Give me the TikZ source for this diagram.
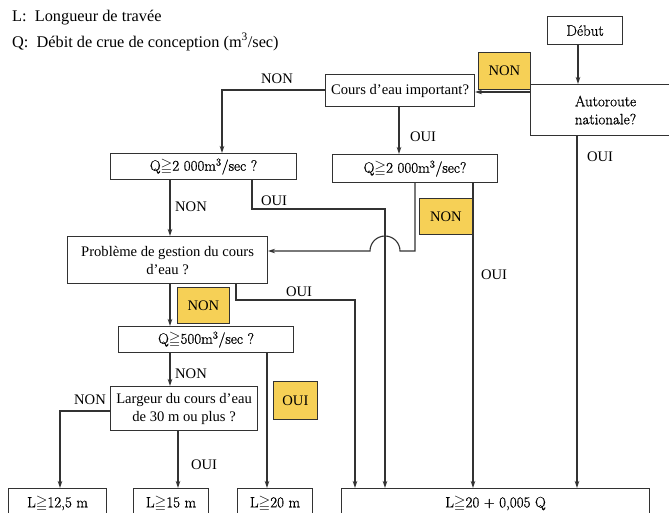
\documentclass[tikz,border=0pt]{standalone}
\usepackage{fontspec}
\usepackage{amssymb}
\newfontfamily\tms{Liberation Serif}
\newfontfamily\lmd{Latin Modern Roman}[FakeBold=0.7]
\usetikzlibrary{arrows.meta}
\definecolor{lc}{RGB}{50,50,50}
\definecolor{yel}{RGB}{246,208,86}
\begin{document}
\begin{tikzpicture}[x=1pt,y=-1pt,
  box/.style={draw=lc, line width=1.1pt, fill=white, inner sep=1pt, anchor=north west, align=center,
    font=\lmd\fontsize{15}{18}\selectfont},
  tbox/.style={box, font=\tms\fontsize{14.6}{18}\selectfont},
  ybox/.style={draw=lc, line width=0.8pt, fill=yel, anchor=north west, inner sep=0pt,
    font=\tms\fontsize{14.6}{17}\selectfont},
  lbl/.style={font=\tms\fontsize{14.6}{17}\selectfont, inner sep=0pt},
  hdr/.style={font=\tms\fontsize{16.3}{19}\selectfont, inner sep=0pt, anchor=west},
  wire/.style={draw=lc, line width=1.1pt},
  arr/.style={wire, -{Stealth[length=7pt,width=4.5pt]}}]
\clip (0,0) rectangle (669,512);
\fill[white] (0,0) rectangle (669,512);

% header
\node[hdr] (hdrL) at (12,18) {L:\ \ Longueur de travée};
\node[hdr] (hdrQ) at (12,42) {Q:\ \ Débit de crue de conception (m\textsuperscript{3}/sec)};

% boxes
\node[box, minimum width=75, minimum height=28] (debut) at (547,16) {Début};
\node[box, minimum width=150, minimum height=51] (auto) at (530,84) {Autoroute\\nationale?};
\node[tbox, minimum width=149, minimum height=32] (cours) at (325,74) {Cours d’eau important?};
\node[box, minimum width=165, minimum height=28] (q2r) at (332,154) {Q$\geqq$2 000m\textsuperscript{3}/sec?};
\node[box, minimum width=186, minimum height=26] (q2l) at (110,153) {Q$\geqq$2 000m\textsuperscript{3}/sec ?};
\node[tbox, minimum width=200, minimum height=47] (prob) at (67,236) {Problème de gestion du cours\\d’eau ?};
\node[box, minimum width=175, minimum height=26] (q500) at (118,326) {Q$\geqq$500m\textsuperscript{3}/sec ?};
\node[tbox, minimum width=147, minimum height=44] (larg) at (110,386) {Largeur du cours d’eau\\de 30 m ou plus ?};

\node[box, minimum width=98, minimum height=30] (l125) at (8,488) {L$\geqq$12,5 m};
\node[box, minimum width=75, minimum height=30] (l15) at (133,488) {L$\geqq$15 m};
\node[box, minimum width=75, minimum height=30] (l20) at (237,488) {L$\geqq$20 m};
\node[box, minimum width=308, minimum height=30] (lbig) at (341,488) {L$\geqq$20 + 0,005 Q};

% yellow tags
\node[ybox, minimum width=52, minimum height=37] (nonA) at (478,52) {NON};
\node[ybox, minimum width=53, minimum height=36] (nonB) at (419,198) {NON};
\node[ybox, minimum width=52, minimum height=36] (nonC) at (177,287) {NON};
\node[ybox, minimum width=44, minimum height=38] (ouiY) at (273,381) {OUI};

% labels
\node[lbl] (tNon1) at (277,79) {NON};
\node[lbl] (tOui1) at (423,137) {OUI};
\node[lbl] (tOui2) at (600,157) {OUI};
\node[lbl] (tNon2) at (191,207) {NON};
\node[lbl] (tOui3) at (274,201) {OUI};
\node[lbl] (tOui4) at (299,292) {OUI};
\node[lbl] (tOui5) at (494,275) {OUI};
\node[lbl] (tNon3) at (191,374) {NON};
\node[lbl] (tNon4) at (90,400) {NON};
\node[lbl] (tOui6) at (204,465) {OUI};

% helper coordinates
\coordinate (yA) at (0,92);
\coordinate (yC) at (0,90);
\coordinate (xC) at (222,0);
\coordinate (xD) at (578,0);
\coordinate (xE) at (577,0);
\coordinate (xF) at (399,0);
\coordinate (kL1) at (252,209);
\coordinate (kL2) at (385,209);
\coordinate (kR1) at (415,251);
\coordinate (kR2) at (400,251);
\coordinate (xR) at (473,0);
\coordinate (xN) at (170,0);
\coordinate (kP1) at (236,300);
\coordinate (kP2) at (355,300);
\coordinate (xQ) at (267,0);
\coordinate (kG) at (60,411);
\coordinate (xO) at (178,0);

% connectors
\draw[arr] (debut.south -| xD) -- (auto.north -| xD);
\draw[arr] (auto.west |- yA) -- (cours.east |- yA);
\draw[arr] (cours.west |- yC) -| (q2l.north -| xC);
\draw[arr] (cours.south -| xF) -- (q2r.north -| xF);
\draw[arr] (auto.south -| xE) -- (lbig.north -| xE);
\draw[arr] (q2l.south -| xN) -- (prob.north -| xN);
\draw[arr] (q2l.south -| kL1) -- (kL1) -- (kL2) -- (lbig.north -| kL2);
\draw[arr] (q2r.south -| kR1) -- (kR1) -- (kR2) arc[start angle=0, end angle=-180, radius=15] -- (prob.east |- kR2);
\draw[arr] (q2r.south -| xR) -- (lbig.north -| xR);
\draw[arr] (prob.south -| xN) -- (q500.north -| xN);
\draw[arr] (prob.south -| kP1) -- (kP1) -- (kP2) -- (lbig.north -| kP2);
\draw[arr] (q500.south -| xN) -- (larg.north -| xN);
\draw[arr] (q500.south -| xQ) -- (l20.north -| xQ);
\draw[arr] (larg.west |- kG) -- (kG) -- (l125.north -| kG);
\draw[arr] (larg.south -| xO) -- (l15.north -| xO);
\end{tikzpicture}
\end{document}
